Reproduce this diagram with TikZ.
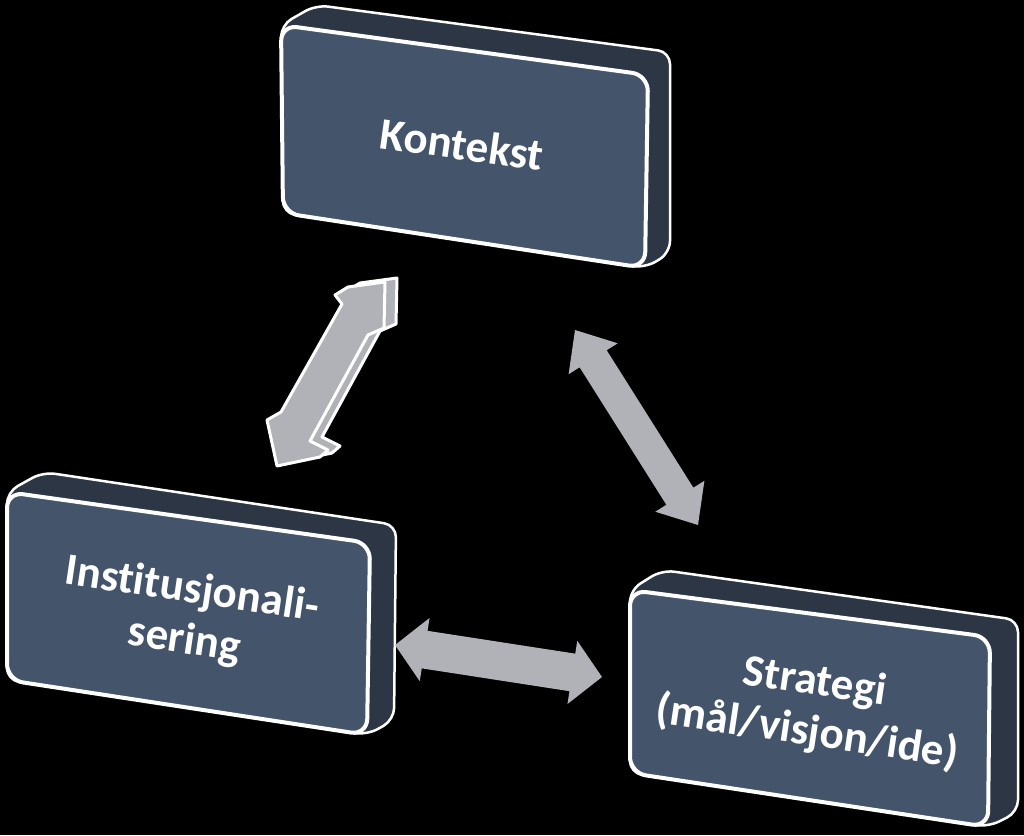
\documentclass[tikz,border=0pt]{standalone}
\usepackage{fontspec}
\setmainfont{Carlito}[Ligatures=NoCommon]
\usetikzlibrary{calc}
\definecolor{facec}{HTML}{44546A}
\definecolor{sidec}{HTML}{2C3644}
\definecolor{arrc}{HTML}{B0B2B7}
\newcommand\dblarrow[6]{%
  \fill[#6] (#1) -- ($(#1)!#5!(#2)!#4!90:(#2)$) -- ($(#1)!#5!(#2)!#3!90:(#2)$)
    -- ($(#2)!#5!(#1)!#3!-90:(#1)$) -- ($(#2)!#5!(#1)!#4!-90:(#1)$) -- (#2)
    -- ($(#2)!#5!(#1)!#4!90:(#1)$) -- ($(#2)!#5!(#1)!#3!90:(#1)$)
    -- ($(#1)!#5!(#2)!#3!-90:(#2)$) -- ($(#1)!#5!(#2)!#4!-90:(#2)$) -- cycle;}
\begin{document}
\begin{tikzpicture}[x=1pt,y=-1pt,
  sideface/.style={fill=sidec, draw=white, line width=2.5pt, rounded corners=12pt, line join=round},
  frontface/.style={fill=facec, draw=white, line width=4pt, rounded corners=16pt},
  lbl/.style={text=white, font=\fontsize{45}{51}\selectfont\bfseries, align=center, inner sep=0pt},
  flatarrow/.style={fill=arrc},
  arrowface/.style={fill=arrc, draw=white, line width=3pt, line join=round}]
\fill[black] (0,0) rectangle (1024,835);
\useasboundingbox (0,0) rectangle (1024,835);

% Kontekst box
\draw[sideface] (281,25) -- (316,5) -- (670,52) -- (670,253) -- (645,268) -- (283,213) -- cycle;
\draw[frontface] (281,25) -- (648,75) -- (645,268) -- (283,213) -- cycle;
\node[lbl, rotate=-8] (kon) at (462,144) {Kontekst};

% Institusjonalisering box
\draw[sideface] (7,492) -- (43,472) -- (396,525) -- (394,720) -- (367,735) -- (7,680) -- cycle;
\draw[frontface] (7,492) -- (370,543) -- (367,735) -- (7,680) -- cycle;
\node[lbl, rotate=-8.5] (ins) at (188,616) {Institusjonali-\\sering};

% Strategi box
\draw[sideface] (630,590) -- (662,570) -- (1018,620) -- (1018,812) -- (988,827) -- (630,773) -- cycle;
\draw[frontface] (630,590) -- (990,637) -- (988,827) -- (630,773) -- cycle;
\node[lbl, rotate=-8.5] (str) at (811,708) {Strategi\\(mål/visjon/ide)};

% arrow endpoints
\coordinate (kontop) at (575,330);
\coordinate (strtop) at (698,525);
\coordinate (insright) at (395,645);
\coordinate (strleft) at (602,677);

% 3D arrow Kontekst <-> Institusjonalisering
\draw[arrowface, shift={(12,-4)}] (335,295) -- (348,287) -- (385,282) -- (384,328) -- (368,335)
  -- (310,441) -- (328,450) -- (320,457) -- (277,466) -- (267,420) -- (281,412) -- (342,304) -- cycle;
\draw[arrowface] (335,295) -- (348,287) -- (385,282) -- (384,328) -- (368,335)
  -- (310,441) -- (328,450) -- (320,457) -- (277,466) -- (267,420) -- (281,412) -- (342,304) -- cycle;

% flat arrows
\dblarrow{kontop}{strtop}{16pt}{29pt}{34pt}{flatarrow}
\dblarrow{insright}{strleft}{19pt}{32pt}{30pt}{flatarrow}
\end{tikzpicture}
\end{document}
